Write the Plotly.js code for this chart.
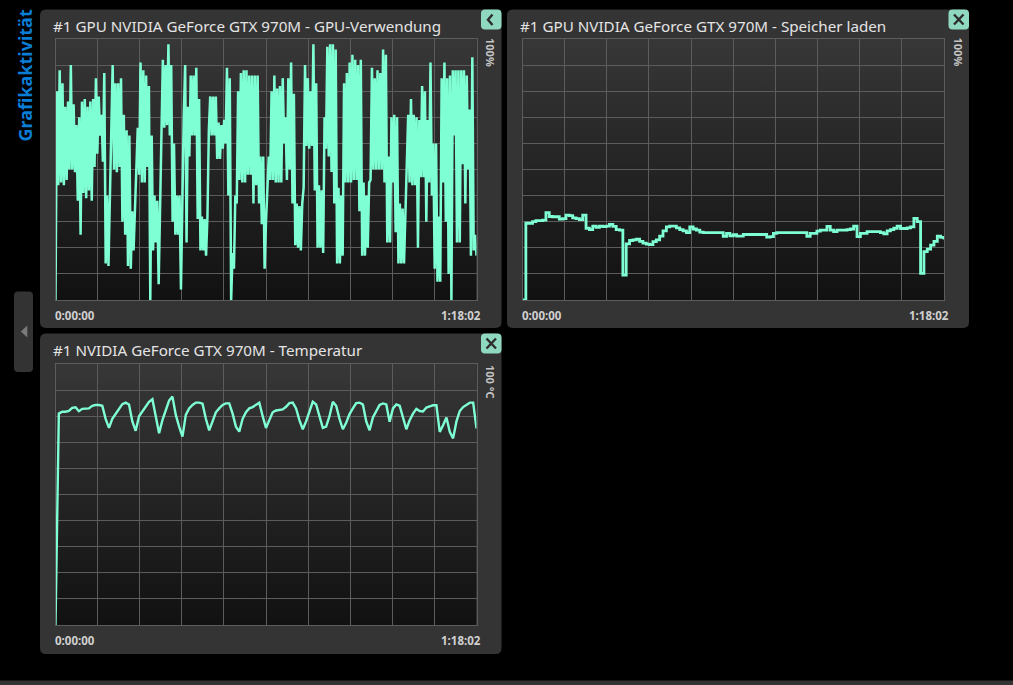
<!DOCTYPE html>
<html><head><meta charset="utf-8">
<script src="https://cdn.plot.ly/plotly-3.0.1.min.js"></script>
<style>html,body{margin:0;padding:0;background:#000;overflow:hidden}#chart{width:1013px;height:685px}</style>
</head><body><div id="chart"></div>
<script>
// ---------- data ----------
const panelTitles = [
  "#1 GPU NVIDIA GeForce GTX 970M - GPU-Verwendung",
  "#1 GPU NVIDIA GeForce GTX 970M - Speicher laden",
  "#1 NVIDIA GeForce GTX 970M - Temperatur"
];
const scaleLabels = ["100%", "100%", "100 °C"];
const timeLabels = ["0:00:00", "1:18:02"];
const sideLabel = "Grafikaktivität";
const durationSec = 4682; // 1:18:02
const yMax = 100;

// GPU-Verwendung (%)
const gpuUsage = [
 0,80, 44,88, 45,83, 44,74, 46,76, 50,90, 50,75, 49,67, 38,70, 25,76, 41,77, 39,74, 42,76, 38,77, 51,85, 56,78, 63,71, 53,87, 14,40, 13,38,
 52,90, 50,83, 49,83, 51,85, 30,71, 25,65, 13,63, 12,34, 19,35, 47,66, 48,91, 45,88, 45,86, 51,82, 0,63, 19,40, 22,38, 6,37, 66,92, 66,90,
 67,98, 63,90, 30,60, 25,40, 25,40, 4,40, 70,90, 22,74, 55,86, 63,86, 63,89, 31,77, 19,32, 19,31, 17,32, 65,78, 63,78, 63,78, 54,68, 54,67,
 58,69, 60,89, 40,85, 0,18, 12,40, 37,80, 46,87, 45,88, 45,88, 48,86, 48,86, 37,86, 44,86, 37,55, 29,55, 12,30,
 46,55, 46,80, 46,86, 45,81, 45,82, 45,85, 60,70, 46,85, 50,91, 37,79, 21,37, 20,36, 19,37, 43,90, 59,85, 58,80, 59,98, 42,83, 20,44, 20,42,
 18,70, 58,97, 55,98, 49,98, 37,96, 14,43, 14,40, 17,83, 45,87, 45,91, 45,94, 46,92, 46,90, 34,92, 17,45, 17,40, 20,45, 46,89, 50,85, 50,88,
 50,87, 50,96, 45,94, 22,55, 22,70, 45,71, 26,70, 14,37, 14,35, 14,35, 45,71, 45,77, 44,71, 44,70, 20,69, 47,82, 47,80, 30,69, 45,91, 40,60,
 12,60, 7,32, 7,85, 45,91, 30,85, 10,86, 0,88, 63,88, 22,88, 22,88, 52,88, 37,86, 50,73, 17,93, 19,25, 17
];

// Speicher laden (%)
const memLoad = [
 0,29.4,29.4,30.0,30.4,30.4,30.6,33.5,32.0,31.9,31.9,31.0,31.2,32.5,32.3,31.5,31.2,30.8,32.5,27.5,
 27.0,28.3,27.8,28.3,28.1,28.3,29.0,28.2,27.0,26.8,9.5,21.5,22.8,23.0,23.3,22.5,21.8,21.4,21.2,22.4,
 23.0,24.5,26.5,28.0,28.3,28.3,27.6,27.0,26.5,25.8,28.0,27.2,26.8,26.0,25.8,25.8,25.8,25.8,25.8,25.8,
 24.4,25.5,24.6,25.0,24.5,24.5,25.1,25.1,25.1,25.1,25.1,25.1,25.1,24.1,24.3,25.5,25.8,25.8,25.8,25.8,
 25.8,25.8,25.8,25.8,25.8,24.4,25.5,25.5,26.4,26.8,26.8,28.2,26.8,26.2,26.8,26.8,26.8,27.0,27.2,28.3,
 24.3,25.5,25.5,26.2,26.2,26.2,26.2,25.8,25.3,26.5,27.0,27.5,28.3,27.4,27.4,27.6,28.0,31.3,30.0,10.2,
 18.5,19.5,21.0,22.5,24.5,24.0,23.2
];

// Temperatur (°C)
const gpuTemp = [
 0,81.0,81.7,81.7,82.0,83.2,83.4,81.9,82.8,82.9,83.0,84.0,84.3,84.3,84.0,79.0,75.5,79.0,81.0,82.5,
 84.6,85.2,84.5,78.0,74.4,80.0,82.0,84.0,85.5,86.5,79.5,73.5,78.5,82.0,86.0,87.5,80.5,76.0,72.2,80.5,
 83.0,84.3,85.2,85.2,84.8,79.0,74.6,78.0,81.5,83.0,84.3,84.9,84.9,81.0,76.0,74.1,79.0,81.5,83.0,83.5,
 84.2,85.2,80.0,75.5,78.5,81.5,82.2,82.5,82.6,83.6,85.0,85.2,83.0,78.5,75.0,78.0,81.5,85.5,84.5,80.0,
 75.5,76.0,80.0,85.5,84.0,79.0,75.0,77.5,80.8,83.0,85.0,85.2,84.5,78.0,74.6,79.5,82.0,84.3,84.9,84.5,
 77.9,83.0,84.5,84.0,79.5,75.0,78.5,81.0,82.8,82.0,81.8,83.3,83.8,84.2,84.2,74.0,76.5,79.5,74.0,71.5,
 78.0,82.0,83.5,84.5,85.2,85.2,75.3
];

// ---------- layout helpers ----------
const W = 1013, H = 685;
const px = x => x / W;
const py = y => 1 - y / H;
const times = arr => arr.map((_, i) => i * durationSec / (arr.length - 1));

const LINE = '#7FFFD4';
const GRID = '#5c5c5c';
const PANEL = '#343434';
const BTN = '#8fd9c1';
const FONT = 'Noto Sans, sans-serif';

const panels = [
  {box:[40, 9.5, 501.5, 328], plot:[55.5, 39, 476.5, 300], ax:'', btn:'<'},
  {box:[507, 9.5, 969, 328], plot:[522.5, 39, 944, 300], ax:'2', btn:'x'},
  {box:[40, 333.5, 501.5, 654], plot:[55.5, 364, 476.5, 625], ax:'3', btn:'x'}
];

function rr(x0, y0, x1, y1, r) {
  const P = (x, y) => px(x).toFixed(6) + ',' + py(y).toFixed(6);
  return `M${P(x0 + r, y0)} L${P(x1 - r, y0)} Q${P(x1, y0)} ${P(x1, y0 + r)} L${P(x1, y1 - r)} Q${P(x1, y1)} ${P(x1 - r, y1)} L${P(x0 + r, y1)} Q${P(x0, y1)} ${P(x0, y1 - r)} L${P(x0, y0 + r)} Q${P(x0, y0)} ${P(x0 + r, y0)} Z`;
}
function poly(pts, close) {
  return pts.map((p, i) => (i ? 'L' : 'M') + px(p[0]).toFixed(6) + ',' + py(p[1]).toFixed(6)).join(' ') + (close ? ' Z' : '');
}

const gradSvg = "<svg xmlns='http://www.w3.org/2000/svg' width='10' height='100' viewBox='0 0 10 100' preserveAspectRatio='none'><defs><linearGradient id='g' x1='0' y1='0' x2='0' y2='1'><stop offset='0' stop-color='#373737'/><stop offset='1' stop-color='#111111'/></linearGradient></defs><rect width='10' height='100' fill='url(#g)'/></svg>";
const gradURI = 'data:image/svg+xml;charset=utf-8,' + encodeURIComponent(gradSvg);

const series = [gpuUsage, memLoad, gpuTemp];
const widths = [2.5, 2.8, 2.4];
const traces = series.map((s, k) => ({
  type: 'scatter', mode: 'lines',
  x: times(s), y: s,
  xaxis: 'x' + panels[k].ax, yaxis: 'y' + panels[k].ax,
  line: {color: LINE, width: widths[k], shape: k === 1 ? 'hv' : 'linear'},
  hoverinfo: 'skip'
}));

const layout = {
  width: W, height: H,
  margin: {l: 0, r: 0, t: 0, b: 0, pad: 0},
  paper_bgcolor: '#000', plot_bgcolor: 'rgba(0,0,0,0)',
  showlegend: false,
  shapes: [], annotations: [], images: []
};

function axisDef(domain, anchor, range, dtick) {
  return {domain, anchor, range, dtick, tick0: 0, showgrid: true, gridcolor: GRID, gridwidth: 1,
    zeroline: false, showline: true, linecolor: GRID, linewidth: 1, mirror: true,
    showticklabels: false, ticks: '', fixedrange: true};
}

panels.forEach((p, k) => {
  const [bx0, by0, bx1, by1] = p.box;
  const [x0, y0, x1, y1] = p.plot;
  layout['xaxis' + p.ax] = axisDef([px(x0), px(x1)], 'y' + p.ax, [0, durationSec], durationSec / 10);
  layout['yaxis' + p.ax] = axisDef([py(y1), py(y0)], 'x' + p.ax, [0, yMax], yMax / 10);

  layout.shapes.push({type: 'path', xref: 'paper', yref: 'paper', path: rr(bx0, by0, bx1, by1, 6),
    fillcolor: PANEL, line: {width: 0}, layer: 'below'});

  layout.images.push({source: gradURI, xref: 'x' + p.ax, yref: 'y' + p.ax, x: 0, y: yMax,
    sizex: durationSec, sizey: yMax, xanchor: 'left', yanchor: 'top', sizing: 'stretch', layer: 'below'});

  // button
  const btx1 = bx1, btx0 = bx1 - 20.5, bty0 = by0, bty1 = by0 + 20;
  layout.shapes.push({type: 'path', xref: 'paper', yref: 'paper', path: rr(btx0, bty0, btx1, bty1, 4),
    fillcolor: BTN, line: {width: 0}});
  if (p.btn === 'x') {
    layout.shapes.push({type: 'path', xref: 'paper', yref: 'paper', path: poly([[btx0 + 5.5, bty0 + 5], [btx1 - 5.5, bty1 - 5]]), line: {color: '#2e2e2e', width: 2.4}});
    layout.shapes.push({type: 'path', xref: 'paper', yref: 'paper', path: poly([[btx1 - 5.5, bty0 + 5], [btx0 + 5.5, bty1 - 5]]), line: {color: '#2e2e2e', width: 2.4}});
  } else {
    layout.shapes.push({type: 'path', xref: 'paper', yref: 'paper', path: poly([[btx0 + 11.5, bty0 + 5], [btx0 + 7, bty0 + 10.2], [btx0 + 11.5, bty0 + 15.5]]), line: {color: '#2e2e2e', width: 2.4}});
  }

  // title
  layout.annotations.push({xref: 'paper', yref: 'paper', x: px(bx0 + 11), y: py(by0 + 16.5), xanchor: 'left', yanchor: 'middle',
    text: panelTitles[k], showarrow: false, font: {family: FONT, size: 15.2, color: '#e4e4e4'}});
  // time labels
  layout.annotations.push({xref: 'paper', yref: 'paper', x: px(x0 - 3), y: py(y1 + 15.5), xanchor: 'left', yanchor: 'middle',
    text: '<b>' + timeLabels[0] + '</b>', showarrow: false, font: {family: FONT, size: 11.5, color: '#d0d0d0'}});
  layout.annotations.push({xref: 'paper', yref: 'paper', x: px(x1 + 6.5), y: py(y1 + 15.5), xanchor: 'right', yanchor: 'middle',
    text: '<b>' + timeLabels[1] + '</b>', showarrow: false, font: {family: FONT, size: 11.5, color: '#d0d0d0'}});
  // scale label (rotated)
  const sl = scaleLabels[k];
  layout.annotations.push({xref: 'paper', yref: 'paper', x: px(x1 + 14.5), y: py(y0 + (sl.length > 4 ? 17 : 13)), xanchor: 'center', yanchor: 'middle',
    textangle: 90, text: '<b>' + sl + '</b>', showarrow: false, font: {family: FONT, size: 11, color: '#c4c4c4'}});
});

// side label
layout.annotations.push({xref: 'paper', yref: 'paper', x: px(24.5), y: py(76), xanchor: 'center', yanchor: 'middle',
  textangle: -90, text: '<b>' + sideLabel + '</b>', showarrow: false, font: {family: FONT, size: 18, color: '#0a7ed6'}});

// left collapse tab
layout.shapes.push({type: 'path', xref: 'paper', yref: 'paper', path: rr(14, 291.5, 33, 372, 4), fillcolor: '#333333', line: {width: 0}, layer: 'below'});
layout.shapes.push({type: 'path', xref: 'paper', yref: 'paper', path: poly([[20.8, 331.5], [27.3, 325.5], [27.3, 337.5]], true), fillcolor: '#7a7a7a', line: {width: 0}});

// bottom strip
layout.shapes.push({type: 'rect', xref: 'paper', yref: 'paper', x0: 0, x1: 1, y0: 0, y1: py(680.5), fillcolor: '#333333', line: {width: 0}, layer: 'below'});

Plotly.newPlot('chart', traces, layout, {staticPlot: true, displayModeBar: false});
</script>
</body></html>
